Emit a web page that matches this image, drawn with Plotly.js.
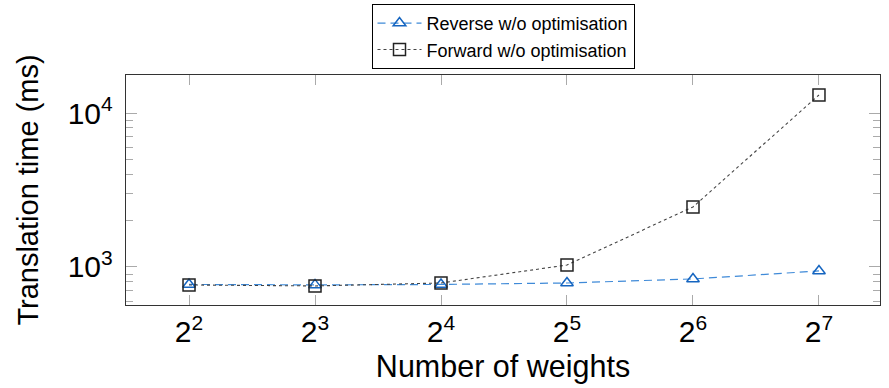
<!DOCTYPE html>
<html><head><meta charset="utf-8">
<script src="https://cdn.plot.ly/plotly-3.0.1.min.js"></script>
<style>html,body{margin:0;padding:0;background:#fff}</style>
</head><body><div id="c" style="width:889px;height:388px"></div>
<script>
const weights = [4, 8, 16, 32, 64, 128];
const xTickText = ['2<sup>2</sup>','2<sup>3</sup>','2<sup>4</sup>','2<sup>5</sup>','2<sup>6</sup>','2<sup>7</sup>'];
const reverseMs = [770, 765, 770, 787, 836, 942];
const forwardMs = [764, 753, 787, 1030, 2455, 13090];
const yTickVals = [1000, 10000];
const yTickText = ['10<sup>3</sup>', '10<sup>4</sup>'];
const yMinorVals = [600, 700, 800, 900, 2000, 3000, 4000, 5000, 6000, 7000, 8000, 9000];

const font = 'Liberation Sans, Arial, sans-serif';
const traces = [
  {x: weights, y: reverseMs, name: 'Reverse w/o optimisation', mode: 'lines+markers',
   line: {color: '#3f8ad8', dash: '8px,5px', width: 1.2},
   marker: {symbol: 'triangle-up-open', size: 11, color: '#1565c0', line: {width: 1.5}}},
  {x: weights, y: forwardMs, name: 'Forward w/o optimisation', mode: 'lines+markers',
   line: {color: '#444', dash: 'dot', width: 1.1},
   marker: {symbol: 'square-open', size: 12, color: '#222', line: {width: 1.5}}}
];
const layout = {
  width: 889, height: 388,
  margin: {l: 126, r: 9, t: 75, b: 83},
  paper_bgcolor: '#fff', plot_bgcolor: '#fff',
  font: {family: font, color: '#000'},
  showlegend: true,
  legend: {x: 0.5, xref: 'paper', xanchor: 'center', y: 0.99, yref: 'container', yanchor: 'top',
    bordercolor: '#000', borderwidth: 1, bgcolor: '#fff', font: {size: 18, family: font},
    tracegroupgap: 0, itemwidth: 44},
  xaxis: {type: 'log', range: [0.4515, 2.253], tickvals: weights, ticktext: xTickText,
    tickfont: {size: 30, family: font}, ticks: 'inside', ticklen: 10, tickcolor: '#aaa', tickwidth: 1,
    showline: true, linecolor: '#333', linewidth: 1.3, mirror: 'ticks', showgrid: false, zeroline: false,
    title: {text: 'Number of weights', font: {size: 30.5, family: font}, standoff: 8}},
  yaxis: {type: 'log', range: [2.753, 4.247], tickvals: yTickVals, ticktext: yTickText,
    tickfont: {size: 30, family: font}, ticks: 'inside', ticklen: 11, tickcolor: '#aaa', tickwidth: 1,
    ticklabelstandoff: 6,
    showline: true, linecolor: '#333', linewidth: 1.3, mirror: 'ticks', showgrid: false, zeroline: false,
    minor: {tickvals: yMinorVals, ticks: 'inside', ticklen: 7, tickcolor: '#aaa', showgrid: false},
    title: {text: 'Translation time (ms)', font: {size: 29, family: font}, standoff: 20}}
};
Plotly.newPlot('c', traces, layout, {displayModeBar: false, staticPlot: true});
</script></body></html>
